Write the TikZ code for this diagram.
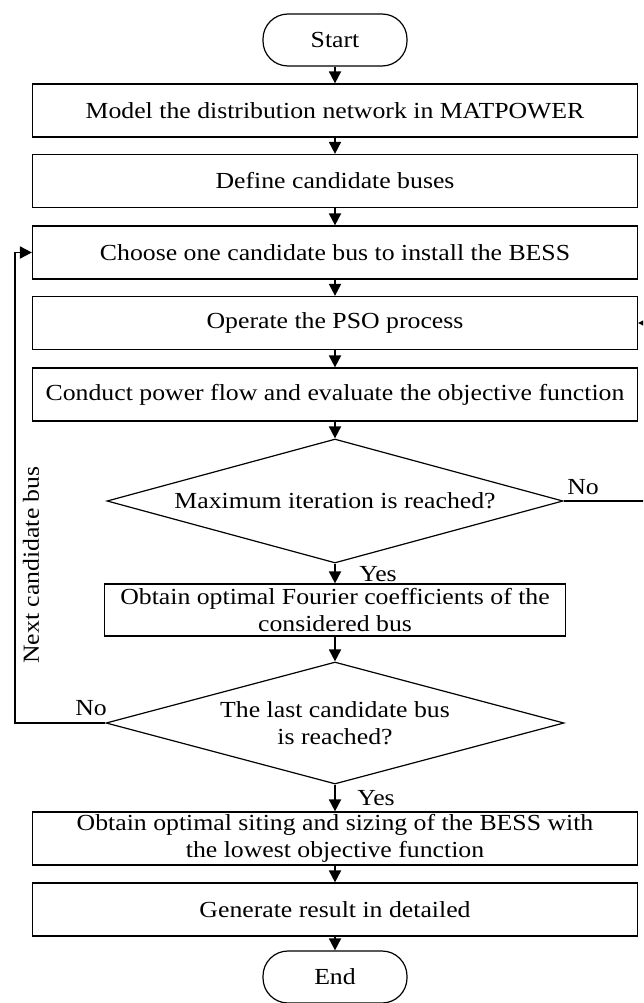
\documentclass[tikz,border=0pt]{standalone}
\usepackage{fontspec}
\setmainfont{Liberation Serif}[FakeStretch=1.12]
\usetikzlibrary{shapes.geometric,arrows.meta}
\begin{document}
\begin{tikzpicture}[x=1pt,y=-1pt,
  every node/.style={font=\fontsize{23}{27}\selectfont},
  box/.style={draw, line width=1.2pt, minimum width=605pt, minimum height=53pt, inner sep=0pt, align=center},
  term/.style={draw, line width=1.2pt, rounded corners=25pt, minimum width=144pt, minimum height=52pt, inner sep=0pt},
  dia/.style={draw, diamond, line width=1.2pt, aspect=3.7, inner sep=0pt, align=center},
  conn/.style={line width=1.8pt, -{Triangle[length=12pt,width=12pt]}},
  lab/.style={inner sep=0pt}
]
\clip (0,0) rectangle (643,1003);
\node[term] (start) at (335,40) {Start};
\node[box] (b1) at (335,110.5) {Model the distribution network in MATPOWER};
\node[box] (b2) at (335,181) {Define candidate buses};
\node[box] (b3) at (335,252.5) {Choose one candidate bus to install the BESS};
\node[box] (b4) at (335,323) {Operate the PSO process};
\node[box] (b5) at (335,394.5) {Conduct power flow and evaluate the objective function};
\node[dia, minimum width=456pt, minimum height=124pt] (d1) at (335,501) {Maximum iteration is reached?};
\node[box, minimum width=461pt, minimum height=52pt] (b6) at (335,610) {Obtain optimal Fourier coefficients of the\\considered bus};
\node[dia, minimum width=458pt, minimum height=122pt] (d2) at (335,723) {The last candidate bus\\is reached?};
\node[box] (b7) at (335,838.5) {Obtain optimal siting and sizing of the BESS with\\the lowest objective function};
\node[box] (b8) at (335,909.5) {Generate result in detailed};
\node[term] (end) at (335,977) {End};

\draw[conn] (start) -- (b1);
\draw[conn] (b1) -- (b2);
\draw[conn] (b2) -- (b3);
\draw[conn] (b3) -- (b4);
\draw[conn] (b4) -- (b5);
\draw[conn] (b5) -- (d1);
\draw[conn] (d1) -- (b6);
\draw[conn] (b6) -- (d2);
\draw[conn] (d2) -- (b7);
\draw[conn] (b7) -- (b8);
\draw[conn] (b8) -- (end);

\coordinate (r1) at (652,501);
\coordinate (r2) at (652,323);
\draw[conn] (d1.east) -- (r1) -- (r2) -- (b4.east);
\coordinate (l1) at (15,723);
\coordinate (l2) at (15,252.5);
\draw[conn] (d2.west) -- (l1) -- (l2) -- (b3.west);

\node[lab] (no1) at (583,487) {No};
\node[lab] (yes1) at (378,574) {Yes};
\node[lab] (no2) at (91,708) {No};
\node[lab] (yes2) at (376,798) {Yes};
\node[lab, rotate=90] (next) at (31,565) {Next candidate bus};
\end{tikzpicture}
\end{document}
